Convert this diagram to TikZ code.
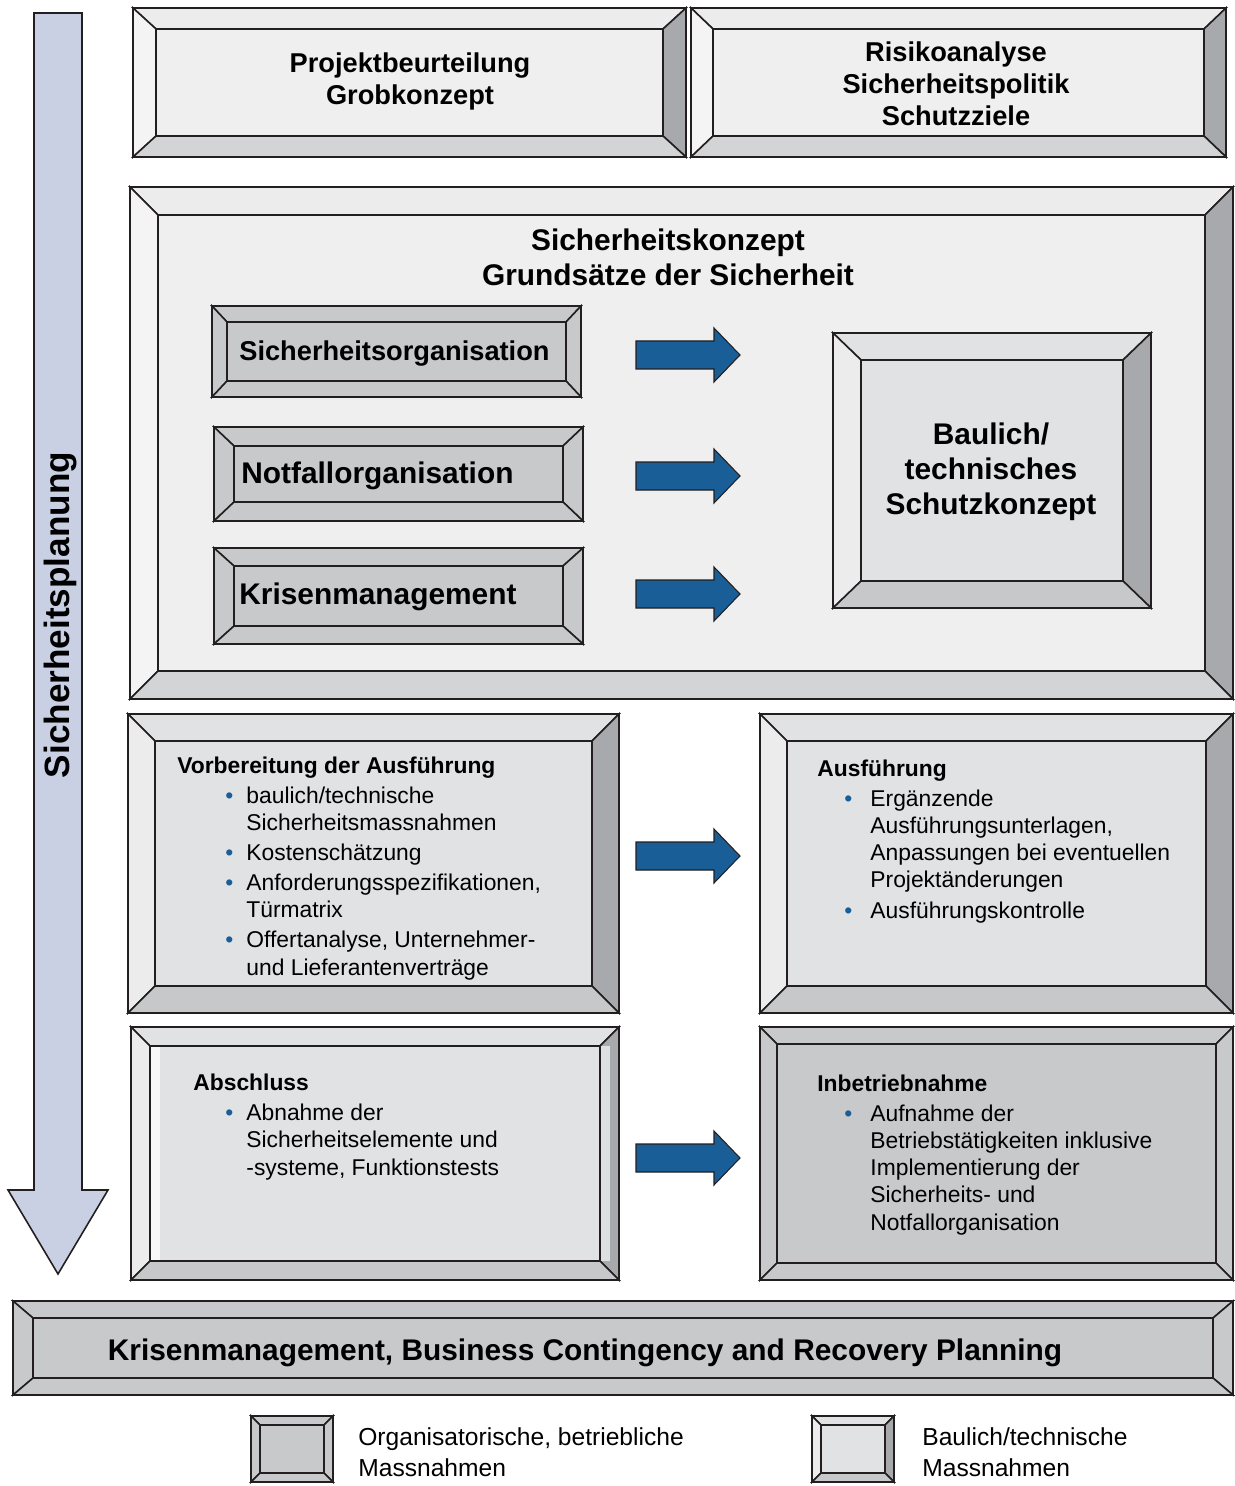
\documentclass[tikz,border=0pt]{standalone}
\usepackage{fontspec}
\setmainfont{Liberation Sans}
\usetikzlibrary{positioning, calc}

\definecolor{linecol}{HTML}{231F20}
\definecolor{facelight}{HTML}{EFEFEF}
\definecolor{toplight}{HTML}{ECECEC}
\definecolor{leftlight}{HTML}{F4F4F4}
\definecolor{rightdark}{HTML}{A7A9AC}
\definecolor{botlight}{HTML}{D3D4D6}
\definecolor{techface}{HTML}{E1E2E4}
\definecolor{techleft}{HTML}{ECECED}
\definecolor{techbot}{HTML}{C7C8CA}
\definecolor{orggray}{HTML}{C8C9CB}
\definecolor{arrowblue}{HTML}{1A5E97}
\definecolor{planblue}{HTML}{C9D0E3}

\tikzset{
    bevel/.style={draw=linecol, line width=0.9pt, line join=miter}, % lines of the framed boxes
    look light/.code={\def\bvface{facelight}\def\bvtop{toplight}\def\bvleft{leftlight}\def\bvright{rightdark}\def\bvbot{botlight}},
    look tech/.code={\def\bvface{techface}\def\bvtop{techface}\def\bvleft{techleft}\def\bvright{rightdark}\def\bvbot{techbot}},
    look org/.code={\def\bvface{orggray}\def\bvtop{orggray}\def\bvleft{orggray}\def\bvright{orggray}\def\bvbot{orggray}},
    title/.style={font=\fontsize{15.5}{18.2}\selectfont\bfseries, align=center, inner sep=0pt},
    head/.style={font=\fontsize{17}{20}\selectfont\bfseries, align=center, inner sep=0pt},
    listtext/.style={font=\fontsize{13}{15.4}\selectfont, align=left, inner sep=0pt, anchor=base west}, % base = last line
    legtext/.style={font=\fontsize{14}{17.1}\selectfont, align=left, inner sep=0pt, anchor=base west},
    blockarrow/.style={fill=arrowblue, draw=linecol, line width=0.6pt, line join=miter}, % blue arrows
    planarrow/.style={fill=planblue, draw=linecol, line width=0.9pt, line join=miter},
    }

% framed box: look, x1, y1, x2, y2, bevel dx, bevel dy
\newcommand{\bevelbox}[7]{%
  \begin{scope}[#1]
    \filldraw[bevel, fill=\bvtop] (#2,#3) -- (#4,#3) -- ({#4-#6},{#3+#7}) -- ({#2+#6},{#3+#7}) -- cycle;
    \filldraw[bevel, fill=\bvleft] (#2,#3) -- ({#2+#6},{#3+#7}) -- ({#2+#6},{#5-#7}) -- (#2,#5) -- cycle;
    \filldraw[bevel, fill=\bvright] (#4,#3) -- ({#4-#6},{#3+#7}) -- ({#4-#6},{#5-#7}) -- (#4,#5) -- cycle;
    \filldraw[bevel, fill=\bvbot] (#2,#5) -- ({#2+#6},{#5-#7}) -- ({#4-#6},{#5-#7}) -- (#4,#5) -- cycle;
    \filldraw[bevel, fill=\bvface] ({#2+#6},{#3+#7}) rectangle ({#4-#6},{#5-#7});
  \end{scope}}
\newcommand{\blockarr}[1]{\draw[blockarrow] ($(#1)+(0,-14)$) -- ++(78,0) -- ++(0,-13) -- ++(26,27) -- ++(-26,27) -- ++(0,-13) -- ++(-78,0) -- cycle;}
\newcommand{\listbul}[2]{\makebox[#1][l]{\hspace{#2}\textcolor{arrowblue}{•}}}
\newcommand{\listind}[1]{\hspace*{#1}}

\begin{document}
\begin{tikzpicture}[x=0.02cm, y=-0.02cm]
\useasboundingbox (0,0) rectangle (1234,1486);

% planning arrow
\draw[planarrow] (34,13) -- (82,13) -- (82,1190) -- (108,1190) -- (58,1274) -- (8,1190) -- (34,1190) -- cycle;
\node[font=\fontsize{20}{24}\selectfont\bfseries, rotate=90, inner sep=0pt] (plan) at (60,615) {Sicherheitsplanung};

% top row
\bevelbox{look light}{133}{8}{686}{157}{23}{21}
\node[title] (proj) at (410,81) {Projektbeurteilung\\Grobkonzept};
\bevelbox{look light}{691}{8}{1226}{157}{22}{21}
\node[title] (risk) at (956,84) {Risikoanalyse\\Sicherheitspolitik\\Schutzziele};

% security concept
\bevelbox{look light}{130}{187}{1233}{699}{28}{28}
\node[head] (konz) at (668,257) {Sicherheitskonzept\\Grundsätze der Sicherheit};
\bevelbox{look org}{212}{306}{581}{397}{15}{16}
\node[title, anchor=west] (sorg) at (239,354) {Sicherheitsorganisation};
\bevelbox{look org}{214}{427}{583}{521}{20}{19}
\node[head, anchor=west] (notf) at (241,476) {Notfallorganisation};
\bevelbox{look org}{214}{548}{583}{644}{20}{18}
\node[head, anchor=west] (kris) at (239,597) {Krisenmanagement};
\bevelbox{look tech}{833}{333}{1151}{608}{28}{27}
\node[head] (bau) at (991,472) {Baulich/\\technisches\\Schutzkonzept};

\coordinate (a1) at (636,355);
\coordinate (a2) at (636,476);
\coordinate (a3) at (636,594);
\blockarr{a1}
\blockarr{a2}
\blockarr{a3}

% execution
\bevelbox{look tech}{128}{714}{619}{1013}{27}{27}
\node[listtext] (vorb) at (177,975) {\textbf{Vorbereitung der Ausführung}\\[1.7pt]
\listbul{39.3pt}{27.3pt}baulich/technische\\
\listind{39.3pt}Sicherheitsmassnahmen\\[1.7pt]
\listbul{39.3pt}{27.3pt}Kostenschätzung\\[1.7pt]
\listbul{39.3pt}{27.3pt}Anforderungsspezifikationen,\\
\listind{39.3pt}Türmatrix\\[1.7pt]
\listbul{39.3pt}{27.3pt}Offertanalyse, Unternehmer-\\
\listind{39.3pt}und Lieferantenverträge};
\bevelbox{look tech}{760}{714}{1233}{1013}{27}{27}
\node[listtext] (ausf) at (817,918) {\textbf{Ausführung}\\[1.7pt]
\listbul{30.2pt}{15.4pt}Ergänzende\\
\listind{30.2pt}Ausführungsunterlagen,\\
\listind{30.2pt}Anpassungen bei eventuellen\\
\listind{30.2pt}Projektänderungen\\[1.7pt]
\listbul{30.2pt}{15.4pt}Ausführungskontrolle};
\coordinate (a4) at (636,856);
\blockarr{a4}

% completion
\bevelbox{look tech}{131}{1027}{619}{1280}{19}{19}
\fill[white!75!techface] (150,1046) rectangle (160,1261);
\fill[techleft!80!rightdark] (600,1046) rectangle (610,1261);
\draw[bevel] (150,1046) rectangle (600,1261);
\node[listtext] (absch) at (193,1175) {\textbf{Abschluss}\\[1.7pt]
\listbul{30.2pt}{18.2pt}Abnahme der\\
\listind{30.2pt}Sicherheitselemente und\\
\listind{30.2pt}-systeme, Funktionstests};
\bevelbox{look org}{760}{1027}{1233}{1280}{17}{17}
\node[listtext] (inbetr) at (817,1230) {\textbf{Inbetriebnahme}\\[1.7pt]
\listbul{30.2pt}{15.4pt}Aufnahme der\\
\listind{30.2pt}Betriebstätigkeiten inklusive\\
\listind{30.2pt}Implementierung der\\
\listind{30.2pt}Sicherheits- und\\
\listind{30.2pt}Notfallorganisation};
\coordinate (a5) at (636,1158);
\blockarr{a5}

% crisis banner
\bevelbox{look org}{13}{1301}{1233}{1395}{20}{17}
\node[head] (bcm) at (585,1353) {Krisenmanagement, Business Contingency and Recovery Planning};

% legend
\bevelbox{look org}{251}{1416}{333}{1482}{9}{9}
\node[legtext] (leg1) at (358,1476) {Organisatorische, betriebliche\\Massnahmen};
\bevelbox{look tech}{812}{1416}{894}{1482}{9}{9}
\node[legtext] (leg2) at (922,1476) {Baulich/technische\\Massnahmen};

\end{tikzpicture}
\end{document}
